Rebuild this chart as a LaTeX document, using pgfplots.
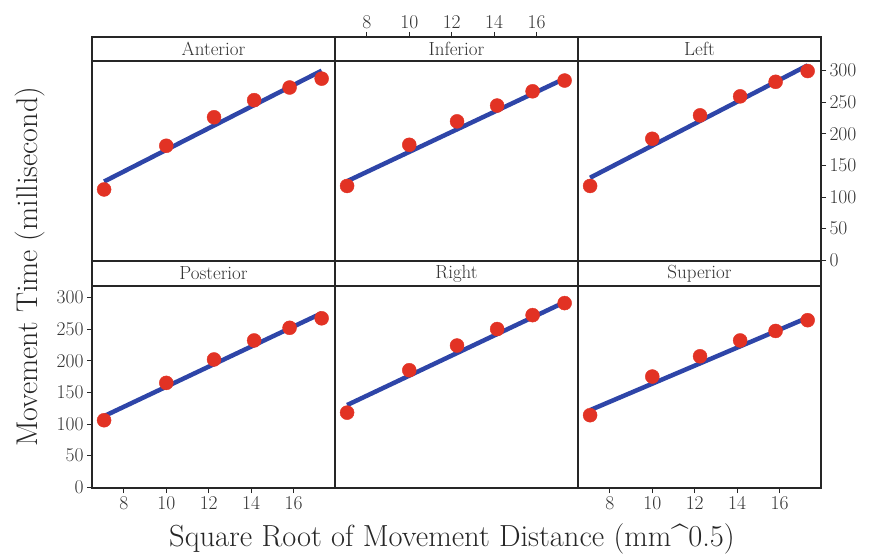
\documentclass[border=0pt]{standalone}
\usepackage{fontspec}
\usepackage{pgfplots}
\pgfplotsset{compat=1.18}
\definecolor{dotred}{RGB}{226,50,36}
\definecolor{lineblue}{RGB}{46,69,168}

\pgfplotstableread{
x y
7.07 112
10.00 181
12.25 226
14.14 253
15.81 273
17.32 287
}\ant
\pgfplotstableread{
x y
7.07 117.5
10.00 182.5
12.25 219.5
14.14 244.5
15.81 267
17.32 284
}\inf
\pgfplotstableread{
x y
7.07 117.5
10.00 192
12.25 229
14.14 259
15.81 282
17.32 299
}\lef
\pgfplotstableread{
x y
7.07 106
10.00 165
12.25 202
14.14 232
15.81 252
17.32 267
}\pos
\pgfplotstableread{
x y
7.07 118
10.00 185
12.25 224
14.14 250
15.81 272
17.32 291
}\rig
\pgfplotstableread{
x y
7.07 114
10.00 175
12.25 207
14.14 232
15.81 247
17.32 264
}\sup

\pgfplotsset{
  panel/.style={
    scale only axis, width=243pt, height=202pt,
    anchor=south west,
    xmin=6.5, xmax=17.95, ymin=-1, ymax=318,
    axis line style={line width=1.1pt, black!85},
    tick align=outside, major tick length=5pt,
    tick style={line width=1pt, black!85},
    every tick label/.append style={font=\fontsize{19.5}{22}\selectfont, black!80},
    /pgf/number format/assume math mode=true,
    clip=false,
  },
  noxt/.style={xtick=\empty},
  noyt/.style={ytick=\empty},
  xtb/.style={xtick={8,10,12,14,16}, xtick pos=left, xticklabel pos=left},
  ytl/.style={ytick={0,50,...,300}, ytick pos=left, yticklabel pos=left},
  ytr/.style={ytick={0,50,...,300}, ytick pos=right, yticklabel pos=right},
  fitline/.style={lineblue, line width=4.5pt, no markers},
  dots/.style={only marks, mark=*, mark size=7pt, mark options={draw=dotred, fill=dotred}},
}

\begin{document}
\begin{tikzpicture}[x=1pt,y=1pt]
\useasboundingbox (0,0) rectangle (869,555);

% top row
\begin{axis}[panel, at={(92pt,294pt)}, noxt, noyt]
\addplot[fitline] coordinates {(7.07,124.5) (17.32,299.5)};
\addplot[dots] table[x=x,y=y] {\ant};
\end{axis}
\begin{axis}[panel, at={(335pt,294pt)}, noxt, noyt]
\addplot[fitline] coordinates {(7.07,125) (17.32,287)};
\addplot[dots] table[x=x,y=y] {\inf};
\end{axis}
\begin{axis}[panel, at={(578pt,294pt)}, noxt, ytr]
\addplot[fitline] coordinates {(7.07,130.5) (17.32,308)};
\addplot[dots] table[x=x,y=y] {\lef};
\end{axis}

% bottom row
\begin{axis}[panel, at={(92pt,67pt)}, xtb, ytl]
\addplot[fitline] coordinates {(7.07,112.5) (17.32,275)};
\addplot[dots] table[x=x,y=y] {\pos};
\end{axis}
\begin{axis}[panel, at={(335pt,67pt)}, noxt, noyt]
\addplot[fitline] coordinates {(7.07,130) (17.32,292.5)};
\addplot[dots] table[x=x,y=y] {\rig};
\end{axis}
\begin{axis}[panel, at={(578pt,67pt)}, xtb, noyt]
\addplot[fitline] coordinates {(7.07,122) (17.32,268)};
\addplot[dots] table[x=x,y=y] {\sup};
\end{axis}

% strips
\tikzset{strip/.style={draw=black!85, line width=1.1pt, fill=white}}
\foreach \xa/\lab in {92/Anterior, 335/Inferior, 578/Left}{
  \draw[strip] (\xa,494) rectangle ++(243,24);
  \node[font=\fontsize{19}{22}\selectfont, text=black!80] at (\xa+121.5,506) {\lab};
}
\foreach \xa/\lab in {92/Posterior, 335/Right, 578/Superior}{
  \draw[strip] (\xa,269) rectangle ++(243,25);
  \node[font=\fontsize{19}{22}\selectfont, text=black!80] at (\xa+121.5,281.5) {\lab};
}

% top x ticks for the Inferior column, above its strip
\begin{axis}[panel, at={(335pt,294pt)}, height=224pt,
  axis x line*=top, axis y line=none, noyt,
  xtick={8,10,12,14,16}, xticklabel pos=right]
\addplot[draw=none] coordinates {(8,0)};
\end{axis}

% axis labels
\node[rotate=90, font=\fontsize{30}{34}\selectfont, text=black!85] at (30,288) {Movement Time (millisecond)};
\node[font=\fontsize{30.5}{34}\selectfont, text=black!85] at (452,16) {Square Root of Movement Distance (mm\^{}0.5)};
\end{tikzpicture}
\end{document}
